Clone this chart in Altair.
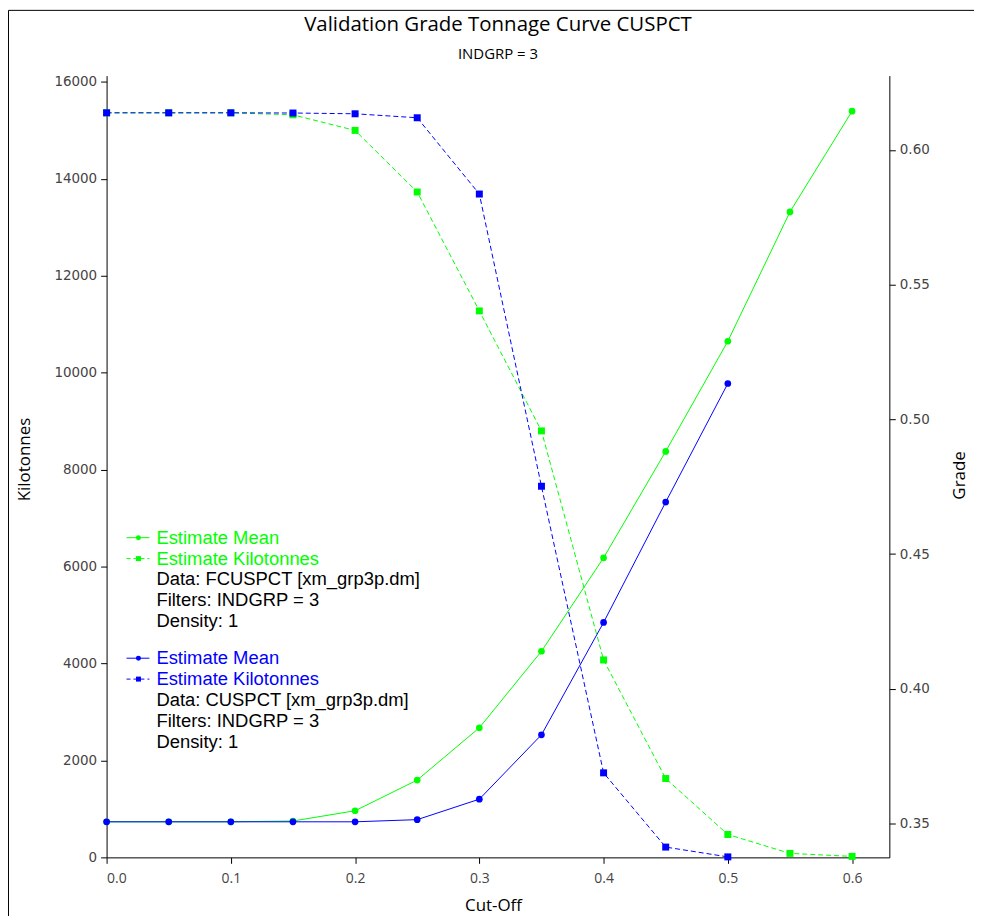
import altair as alt
import pandas as pd

# ---------------- data ----------------
cutoff = [0.0, 0.05, 0.1, 0.15, 0.2, 0.25, 0.3, 0.35, 0.4, 0.45, 0.5, 0.55, 0.6]
# FCUSPCT (green)
f_kt = [15364, 15364, 15364, 15323, 15001, 13730, 11276, 8800, 4074, 1627, 472, 82, 20]
f_grade = [0.3506, 0.3506, 0.3506, 0.3509, 0.3547, 0.3661, 0.3855, 0.4139, 0.4486,
           0.4881, 0.5290, 0.5770, 0.6144]
# CUSPCT (blue)
c_cutoff = [0.0, 0.05, 0.1, 0.15, 0.2, 0.25, 0.3, 0.35, 0.4, 0.45, 0.5]
c_kt = [15364, 15364, 15364, 15360, 15344, 15262, 13688, 7658, 1744, 212, 10]
c_grade = [0.3506, 0.3506, 0.3506, 0.3506, 0.3506, 0.3514, 0.3590, 0.3829, 0.4246,
           0.4693, 0.5133]

x_ticks = [0.0, 0.1, 0.2, 0.3, 0.4, 0.5, 0.6]
kt_ticks = [0, 2000, 4000, 6000, 8000, 10000, 12000, 14000, 16000]
grade_ticks = [0.35, 0.40, 0.45, 0.50, 0.55, 0.60]

title_text = "Validation Grade Tonnage Curve CUSPCT"
subtitle_text = "INDGRP = 3"

legend_green = ["Estimate Mean", "Estimate Kilotonnes", "Data: FCUSPCT [xm_grp3p.dm]",
                "Filters: INDGRP = 3", "Density: 1"]
legend_blue = ["Estimate Mean", "Estimate Kilotonnes", "Data: CUSPCT [xm_grp3p.dm]",
               "Filters: INDGRP = 3", "Density: 1"]

GREEN = "#00ff00"
BLUE = "#0000ff"

W, H = 786, 785

fdf = pd.DataFrame({"cutoff": cutoff, "kt": f_kt, "grade": f_grade})
cdf = pd.DataFrame({"cutoff": c_cutoff, "kt": c_kt, "grade": c_grade})
dummy = pd.DataFrame({"a": [0]})

x_enc = alt.X(
    "cutoff:Q",
    scale=alt.Scale(domain=[0, 0.63], nice=False, zero=False),
    axis=alt.Axis(values=x_ticks, format=".1f", title="Cut-Off",
                  labelFont="Open Sans", labelFontSize=14, labelPadding=8,
                  titleX=388, titleY=48, titleBaseline="middle", titleAlign="center"),
)
y_kt = alt.Y(
    "kt:Q",
    scale=alt.Scale(domain=[0, 16132], nice=False, zero=False),
    axis=alt.Axis(orient="left", values=kt_ticks, format="d", title="Kilotonnes",
                  labelFont="DejaVu Sans", labelFontSize=13.5, labelPadding=4,
                  titleX=-82, titleY=385, titleAngle=270,
                  titleBaseline="middle", titleAlign="center"),
)
y_gr = alt.Y(
    "grade:Q",
    scale=alt.Scale(domain=[0.3374, 0.6276], nice=False, zero=False),
    axis=alt.Axis(orient="right", values=grade_ticks, format=".2f", title="Grade",
                  labelFont="DejaVu Sans", labelFontSize=13.5, labelPadding=4,
                  titleX=70, titleY=401, titleAngle=270,
                  titleBaseline="middle", titleAlign="center"),
)


def series(df, yenc, color, dashed):
    base = alt.Chart(df).encode(x=x_enc, y=yenc)
    if dashed:
        line = base.mark_line(color=color, strokeWidth=1, strokeDash=[5, 3])
        pts = base.mark_square(color=color, size=49, opacity=1)
    else:
        line = base.mark_line(color=color, strokeWidth=1)
        pts = base.mark_circle(color=color, size=45, opacity=1)
    return [line, pts]


kt_layer = alt.layer(*series(fdf, y_kt, GREEN, True), *series(cdf, y_kt, BLUE, True))
gr_layer = alt.layer(*series(fdf, y_gr, GREEN, False), *series(cdf, y_gr, BLUE, False))

# ---------------- decoration: outer frame + custom legend ----------------
deco = []
frame_l, frame_t, frame_r = -98.5, -65.5, 872.5
deco.append(alt.Chart(dummy).mark_rule(color="black", strokeWidth=1).encode(
    x=alt.value(frame_l), y=alt.value(frame_t), y2=alt.value(H + 80)))
deco.append(alt.Chart(dummy).mark_rule(color="black", strokeWidth=1).encode(
    x=alt.value(frame_r), y=alt.value(frame_t), y2=alt.value(H + 80)))
deco.append(alt.Chart(dummy).mark_rule(color="black", strokeWidth=1).encode(
    x=alt.value(frame_l), x2=alt.value(frame_r), y=alt.value(frame_t)))


def legend_block(lines, color, y0):
    out = []
    step = 21
    for i, txt in enumerate(lines):
        yv = y0 + i * step
        c = color if i < 2 else "black"
        out.append(alt.Chart(dummy).mark_text(
            align="left", baseline="middle", font="Liberation Sans", fontSize=18.5,
            color=c, text=txt).encode(x=alt.value(50), y=alt.value(yv)))
    # symbols
    ym, yk = y0, y0 + step
    out.append(alt.Chart(dummy).mark_rule(color=color, strokeWidth=1).encode(
        x=alt.value(20), x2=alt.value(43), y=alt.value(ym)))
    out.append(alt.Chart(dummy).mark_circle(color=color, size=25, opacity=1).encode(
        x=alt.value(32), y=alt.value(ym)))
    out.append(alt.Chart(dummy).mark_rule(color=color, strokeWidth=1, strokeDash=[4, 3]).encode(
        x=alt.value(20), x2=alt.value(43), y=alt.value(yk)))
    out.append(alt.Chart(dummy).mark_square(color=color, size=25, opacity=1).encode(
        x=alt.value(32), y=alt.value(yk)))
    return out


deco += legend_block(legend_green, GREEN, 464)
deco += legend_block(legend_blue, BLUE, 585)
deco_layer = alt.layer(*deco)

chart = (
    alt.layer(kt_layer, gr_layer, deco_layer)
    .resolve_scale(y="independent")
    .properties(
        width=W,
        height=H,
        title=alt.TitleParams(
            text=title_text, subtitle=subtitle_text,
            font="Open Sans", fontSize=20.5, fontWeight="normal", color="black",
            subtitleFont="Open Sans", subtitleFontSize=15, subtitleColor="black",
            anchor="middle", offset=0, dy=52, subtitlePadding=11,
        ),
        padding={"left": 99, "top": 66, "right": 85, "bottom": 57},
        autosize=alt.AutoSizeParams(type="none"),
    )
    .configure_view(stroke=None)
    .configure_axis(
        grid=False, domainColor="black", tickColor="black", tickSize=6,
        labelColor="#444444", titleColor="black", titleFont="Open Sans",
        titleFontSize=17, titleFontWeight="normal",
    )
)

chart.save("out.html", embed_options={"renderer": "svg", "actions": False})
